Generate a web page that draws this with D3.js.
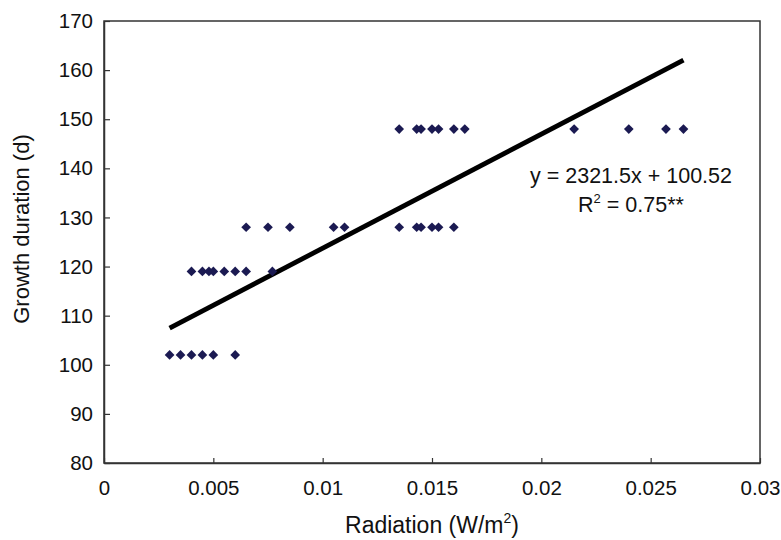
<!DOCTYPE html>
<html>
<head>
<meta charset="utf-8">
<script src="https://cdn.jsdelivr.net/npm/d3@7"></script>
<style>
  body { margin: 0; background: #fff; }
  svg text { font-family: "Liberation Sans", Arial, sans-serif; fill: #111; }
</style>
</head>
<body>
<div id="chart"></div>
<script>
// observed points, grouped by growth duration
const radiation = [
  0.003, 0.0035, 0.004, 0.0045, 0.005, 0.006,
  0.004, 0.0045, 0.0048, 0.005, 0.0055, 0.006, 0.0065, 0.0077,
  0.0065, 0.0075, 0.0085, 0.0105, 0.011, 0.0135, 0.0143, 0.0145, 0.015, 0.0153, 0.016,
  0.0135, 0.0143, 0.0145, 0.015, 0.0153, 0.016, 0.0165, 0.0215, 0.024, 0.0257, 0.0265
];
const duration = [
  102, 102, 102, 102, 102, 102,
  119, 119, 119, 119, 119, 119, 119, 119,
  128, 128, 128, 128, 128, 128, 128, 128, 128, 128, 128,
  148, 148, 148, 148, 148, 148, 148, 148, 148, 148, 148
];
const xTicks = [0, 0.005, 0.01, 0.015, 0.02, 0.025, 0.03];
const yTicks = [80, 90, 100, 110, 120, 130, 140, 150, 160, 170];
const slope = 2321.5;
const intercept = 100.52;
const fitRange = [0.003, 0.0265];

const W = 781, H = 540;
const margin = { top: 21, right: 21, bottom: 77, left: 104 };
const width = W - margin.left - margin.right;
const height = H - margin.top - margin.bottom;

const svg = d3.select('#chart').append('svg').attr('width', W).attr('height', H);
const g = svg.append('g').attr('transform', `translate(${margin.left},${margin.top})`);

const x = d3.scaleLinear().domain([0, 0.03]).range([0, width]);
const y = d3.scaleLinear().domain([80, 170]).range([height, 0]);

// frame
g.append('rect').attr('width', width).attr('height', height)
  .attr('fill', 'none').attr('stroke', '#333').attr('stroke-width', 1.5);

const xAxis = g.append('g').attr('transform', `translate(0,${height})`)
  .call(d3.axisBottom(x).tickValues(xTicks).tickSizeInner(-5).tickSizeOuter(0).tickPadding(17.5)
    .tickFormat((d) => d === 0 ? '0' : String(+d.toFixed(3))));
const yAxis = g.append('g')
  .call(d3.axisLeft(y).tickValues(yTicks).tickSizeInner(-6).tickSizeOuter(0).tickPadding(11));

[xAxis, yAxis].forEach((a) => {
  a.select('.domain').attr('stroke', '#333').attr('stroke-width', 1.5);
  a.selectAll('.tick line').attr('stroke', '#333').attr('stroke-width', 1.2);
  a.selectAll('.tick text').style('font-size', '20.5px').attr('fill', '#111');
});

// regression line
g.append('line')
  .attr('x1', x(fitRange[0])).attr('y1', y(slope * fitRange[0] + intercept))
  .attr('x2', x(fitRange[1])).attr('y2', y(slope * fitRange[1] + intercept))
  .attr('stroke', '#000').attr('stroke-width', 4.8);

// points
const diamond = d3.symbol().type(d3.symbolDiamond2).size(60);
g.selectAll('.pt').data(radiation).enter().append('path')
  .attr('class', 'pt')
  .attr('d', diamond)
  .attr('transform', (d, i) => `translate(${x(d)},${y(duration[i])})`)
  .attr('fill', '#1b1a52');

// equation
const eqX = 631 - margin.left;
g.append('text').attr('x', eqX).attr('y', 183 - margin.top)
  .attr('text-anchor', 'middle').style('font-size', '21.5px')
  .text(`y = ${slope}x + ${intercept}`);
const r2 = g.append('text').attr('x', eqX).attr('y', 212 - margin.top)
  .attr('text-anchor', 'middle').style('font-size', '21.5px');
r2.append('tspan').text('R');
r2.append('tspan').attr('dy', -9).style('font-size', '13px').text('2');
r2.append('tspan').attr('dy', 9).text(' = 0.75**');

// axis titles
svg.append('text').attr('x', 432).attr('y', 533)
  .attr('text-anchor', 'middle').style('font-size', '23px')
  .call((t) => {
    t.append('tspan').text('Radiation (W/m');
    t.append('tspan').attr('dy', -10).style('font-size', '14px').text('2');
    t.append('tspan').attr('dy', 10).text(')');
  });
svg.append('text').attr('transform', 'translate(29,229) rotate(-90)')
  .attr('text-anchor', 'middle').style('font-size', '22px')
  .text('Growth duration (d)');
</script>
</body>
</html>
